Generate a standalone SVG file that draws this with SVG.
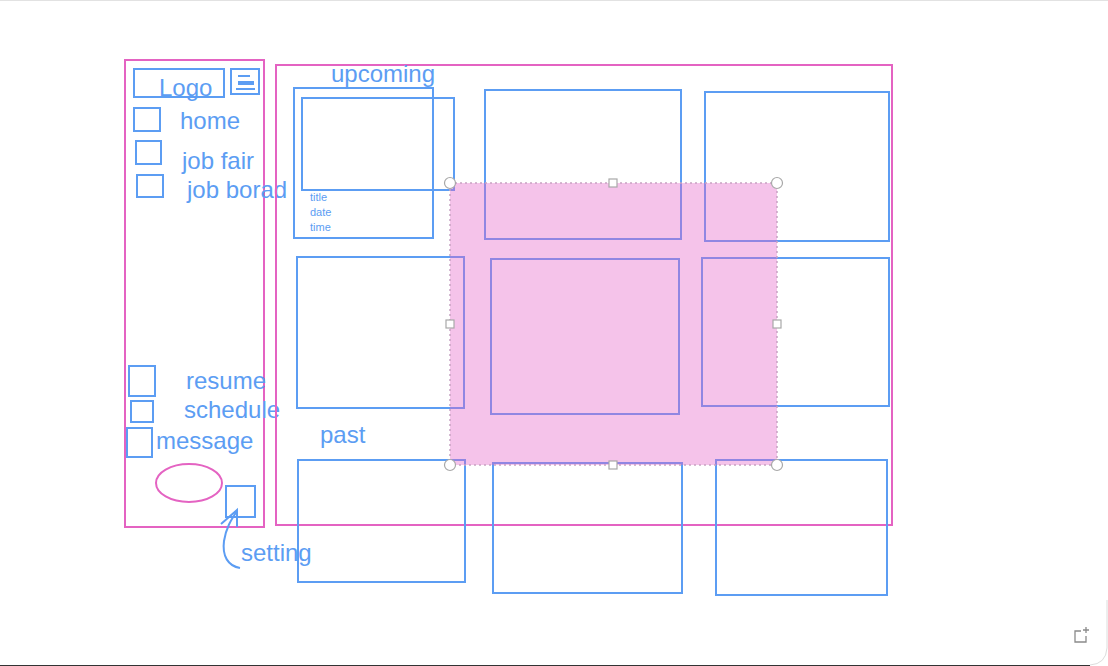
<svg xmlns="http://www.w3.org/2000/svg" width="1108" height="666" viewBox="0 0 1108 666">
<style>
.pk{fill:none;stroke:#e463c2;stroke-width:2}
.bx{fill:none;stroke:#5c9df3;stroke-width:2}
.t{font-family:"Liberation Sans",Arial,sans-serif;fill:#5c9df3;font-size:24px}
.s{font-family:"Liberation Sans",Arial,sans-serif;fill:#5c9df3;font-size:11px}
.h{fill:#fff;stroke:#a8a8a8;stroke-width:1.2}
</style>
<rect x="0" y="0" width="1108" height="666" fill="#fff"/>
<line x1="0" y1="0.5" x2="1108" y2="0.5" stroke="#e2e2e2" stroke-width="1"/>
<path d="M1107,600 L1107,648 Q1106,664 1090,665" fill="none" stroke="#dcdcdc" stroke-width="1"/>
<line x1="0" y1="665.5" x2="1090" y2="665.5" stroke="#333" stroke-width="1"/>
<g id="add-frame-icon" fill="none" stroke="#8a8a8a" stroke-width="1.3">
<path d="M1081,631 L1075,631 L1075,642 L1086,642 L1086,636"/>
<path d="M1086,627 L1086,633 M1083,630 L1089,630"/>
</g>

<g id="sidebar">
<rect class="pk" x="125" y="60" width="139" height="467"/>
</g>
<g id="logo"><rect class="bx" x="134" y="69" width="90" height="28"/><text class="t" x="159" y="96">Logo</text></g>
<g id="menu">
<rect class="bx" x="231" y="69" width="28" height="25"/>
<rect x="238" y="75" width="12" height="2" fill="#5c9df3"/>
<rect x="238" y="81" width="16" height="4" fill="#5c9df3"/>
<rect x="236" y="88" width="19" height="2" fill="#5c9df3"/>
</g>
<g id="home"><rect class="bx" x="134" y="108" width="26" height="23"/><text class="t" x="180" y="129">home</text></g>
<g id="jobfair"><rect class="bx" x="136" y="141" width="25" height="23"/><text class="t" x="182" y="169">job fair</text></g>
<g id="jobborad"><rect class="bx" x="137" y="175" width="26" height="22"/><text class="t" x="187" y="198">job borad</text></g>
<g id="resume"><rect class="bx" x="129" y="366" width="26" height="30"/><text class="t" x="186" y="389">resume</text></g>
<g id="schedule"><rect class="bx" x="131" y="401" width="22" height="21"/><text class="t" x="184" y="418">schedule</text></g>
<g id="message"><rect class="bx" x="127" y="428" width="25" height="29"/><text class="t" x="156" y="449">message</text></g>
<g id="avatar"><ellipse cx="189" cy="483" rx="33" ry="19" fill="none" stroke="#e463c2" stroke-width="2"/></g>
<g id="setting"><rect class="bx" x="226" y="486" width="29" height="31"/><text class="t" x="241" y="561">setting</text></g>

<g id="main"><rect class="pk" x="276" y="65" width="616" height="460"/></g>
<g id="upcoming-label"><text class="t" x="331" y="82">upcoming</text></g>
<g id="card1">
<rect class="bx" x="294" y="88" width="139" height="150"/>
<rect class="bx" x="302" y="98" width="152" height="92"/>
<text class="s" x="310" y="201">title</text>
<text class="s" x="310" y="216">date</text>
<text class="s" x="310" y="231">time</text>
</g>
<g id="card2"><rect class="bx" x="485" y="90" width="196" height="149"/></g>
<g id="card3"><rect class="bx" x="705" y="92" width="184" height="149"/></g>
<g id="card4"><rect class="bx" x="297" y="257" width="167" height="151"/></g>
<g id="card5"><rect class="bx" x="491" y="259" width="188" height="155"/></g>
<g id="card6"><rect class="bx" x="702" y="258" width="187" height="148"/></g>
<g id="past-label"><text class="t" x="320" y="443">past</text></g>
<g id="card7"><rect class="bx" x="298" y="460" width="167" height="122"/></g>
<g id="card8"><rect class="bx" x="493" y="463" width="189" height="130"/></g>
<g id="card9"><rect class="bx" x="716" y="460" width="171" height="135"/></g>

<g id="connectors">
<path d="M240,568 C228,566 222,556 224,541 C226,528 231,520 237,511" fill="none" stroke="#5c9df3" stroke-width="2"/>
<path d="M221,524 L237,510 L237,527" fill="none" stroke="#5c9df3" stroke-width="2"/>
</g>

<g id="selection">
<rect x="450" y="183" width="327" height="282" fill="#e560c8" fill-opacity="0.38" stroke="#c8a2c2" stroke-width="1.5" stroke-dasharray="2 3"/>
<circle class="h" cx="450" cy="183" r="5.5"/>
<circle class="h" cx="777" cy="183" r="5.5"/>
<circle class="h" cx="450" cy="465" r="5.5"/>
<circle class="h" cx="777" cy="465" r="5.5"/>
<rect class="h" x="609" y="179" width="8" height="8"/>
<rect class="h" x="446" y="320" width="8" height="8"/>
<rect class="h" x="773" y="320" width="8" height="8"/>
<rect class="h" x="609" y="461" width="8" height="8"/>
</g>
</svg>
